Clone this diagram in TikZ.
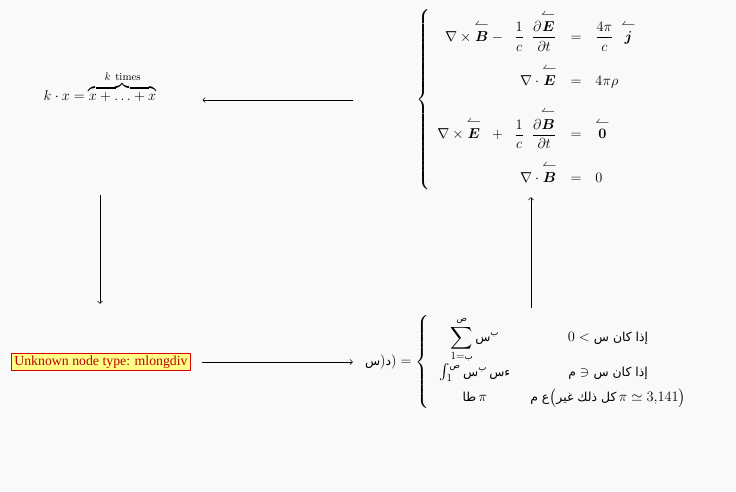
\documentclass[tikz,border=0pt]{standalone}
\usepackage{amsmath,amssymb}
\usepackage{bm}
\usepackage{fontspec}
\newfontfamily\arabicfont[Script=Arabic,Scale=0.8]{DejaVu Sans}
\newfontfamily\boxfont{Liberation Serif}
\TeXXeTstate=1
\usepackage{xcolor}
\definecolor{figbg}{RGB}{249,249,249}
\definecolor{figred}{RGB}{220,0,0}
\definecolor{figyellow}{RGB}{255,255,136}
\usetikzlibrary{arrows.meta}
\newcommand{\artx}[1]{\text{\arabicfont\beginR #1\endR}}
\newcommand{\vecl}[1]{\overset{\textstyle\leftharpoonup}{\bm{#1}}}

\begin{document}
\begin{tikzpicture}[
  x=1pt,y=-1pt,
  font=\fontsize{15.5}{18.6}\selectfont,
  eq/.style={inner sep=3pt,align=center},
  err/.style={draw=figred,fill=figyellow,text=figred!85!black,font=\boxfont\fontsize{13.8}{15}\selectfont,inner sep=2.5pt,line width=0.8pt},
  ar/.style={-{To[length=3pt,width=5.5pt]},line width=0.6pt}
]
\useasboundingbox[fill=figbg] (0,0) rectangle (736,491);
\node[eq,anchor=base] (mult) at (100,100)
  {$k\cdot x=\overbrace{x+\ldots+x}^{k\ \text{times}}$};
\node[eq,font=\fontsize{15.8}{19}\selectfont] (maxw) at (530,100)
  {$\arraycolsep=7pt\left\{\begin{array}{rcl}
   \nabla\times\vecl{B}-\;\;\dfrac{1}{c}\;\;\dfrac{\partial\vecl{E}}{\partial t} & = & \dfrac{4\pi}{c}\;\;\vecl{j}\\[2.7ex]
   \nabla\cdot\vecl{E} & = & 4\pi\rho\\[2.7ex]
   \nabla\times\vecl{E}\;\;+\;\;\dfrac{1}{c}\;\;\dfrac{\partial\vecl{B}}{\partial t} & = & \vecl{0}\\[2.7ex]
   \nabla\cdot\vecl{B} & = & 0
  \end{array}\right.$};
\node[err] (ertx) at (101,362) {Unknown node type: mlongdiv};
\node[eq] (pw) at (531,362)
  {$\artx{س})\artx{د})=\arraycolsep=10pt\left\{\begin{array}{cc}
   \displaystyle\sum_{1=\artx{ب}}^{\artx{ص}}\artx{س}^{\artx{ب}} & 0<\artx{إذا كان س}\\[2.4ex]
   \int_1^{\artx{ص}}\artx{س}^{\artx{ب}}\,\artx{ءس} & \artx{م}\ni\artx{إذا كان س}\\[1ex]
   \artx{طا}\,\pi & \artx{ع م}\big(\artx{كل ذلك غير}\,\pi\simeq 3{,}141\big)
  \end{array}\right.$};
\draw[ar,shorten <=60pt,shorten >=43pt] (maxw.west) -- (maxw.west -| mult.east);
\draw[ar,shorten <=91pt,shorten >=49pt] (mult.south) -- (mult.south |- ertx.north);
\draw[ar,shorten <=11pt,shorten >=9pt] (ertx.east) -- (ertx.east -| pw.west);
\draw[ar,shorten <=4pt,shorten >=4pt] (pw.north) -- (pw.north |- maxw.south);
\end{tikzpicture}
\end{document}
